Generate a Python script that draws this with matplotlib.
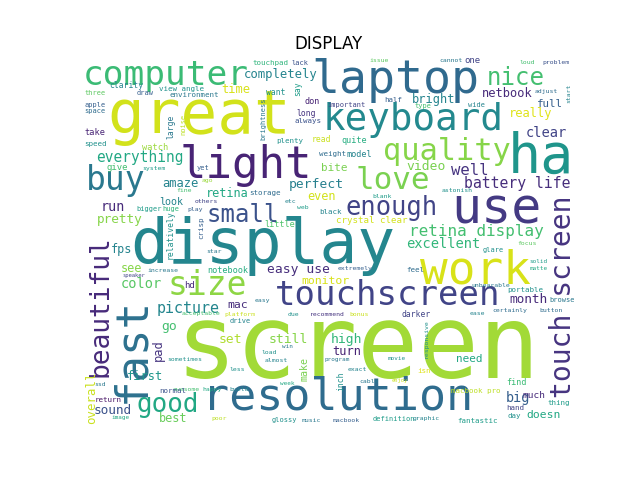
import matplotlib
matplotlib.use("Agg")
import matplotlib.pyplot as plt

# word list of the cloud (biggest first)
words = [
    "screen", "display", "great", "ha", "laptop", "use", "resolution", "light",
    "fast", "keyboard", "touchscreen", "computer", "size", "buy", "love",
    "quality", "work", "touch screen", "beautiful", "good", "enough", "small",
    "nice", "retina display", "well", "picture", "everything", "battery life",
    "excellent", "color", "run", "big", "go", "set", "still", "high", "video",
    "easy use", "perfect", "pretty", "sound", "completely", "overall", "first",
    "amaze", "bright", "netbook", "clear", "time", "turn", "pad", "fps", "see",
    "best", "even", "retina", "month", "monitor", "doesn", "mac", "need",
    "bite", "really", "full", "look", "make", "hd", "crystal clear", "much",
    "clarity", "view angle", "environment", "three", "draw", "apple", "space",
    "take", "speed", "watch", "give", "system", "yet", "large", "noise",
    "touchpad", "lack", "issue", "say", "want", "don", "important", "half",
    "brightness", "long", "always", "plenty", "read", "quite", "weight",
    "model", "cannot", "one", "loud", "problem", "adjust", "start", "type",
    "wide", "others", "bigger", "huge", "play", "ago", "fine", "relatively",
    "crisp", "star", "notebook", "increase", "speaker", "storage", "etc",
    "web", "blank", "black", "little", "extremely", "astonish", "glare",
    "focus", "solid", "matte", "feel", "unbearable", "portable", "acceptable",
    "platform", "drive", "sometimes", "awesome", "happy", "build", "less",
    "normal", "ssd", "return", "image", "poor", "easy", "recommend", "bonus",
    "due", "win", "load", "almost", "program", "exact", "movie", "week",
    "cable", "enjoy", "inch", "glossy", "music", "macbook", "definition",
    "graphic", "isn", "ease", "certainly", "button", "browse", "responsive",
    "darker", "find", "macbook pro", "day", "hand", "thing", "fantastic",
]

# layout: left x, baseline y (pixels), em size (px),
# rotation, viridis value
place = {
    "screen": (183, 378, 101, 0, .86),
    "display": (135, 263, 63, 0, .46),
    "great": (112, 133, 61, 0, .93),
    "ha": (512, 173, 55, 0, .52),
    "laptop": (315, 93, 46.5, 0, .34),
    "use": (455, 223, 50, 0, .17),
    "resolution": (205, 410, 45, 0, .35),
    "light": (183, 178, 44, 0, .10),
    "fast": (144, 400, 44, 90, .37),
    "keyboard": (325, 130, 37.5, 0, .47),
    "touchscreen": (277, 305, 34, 0, .20),
    "computer": (85, 85, 34.4, 0, .68),
    "size": (170, 295, 33, 0, .83),
    "buy": (88, 190, 33, 0, .40),
    "love": (358, 189, 31, 0, .80),
    "quality": (385, 160, 30.4, 0, .82),
    "work": (423, 283, 46, 0, .94),
    "touch screen": (571, 396, 28, 90, .15),
    "beautiful": (108, 375, 26.3, 90, .12),
    "good": (138, 412, 26, 0, .60),
    "enough": (347, 215, 25.5, 0, .20),
    "small": (208, 222, 24, 0, .25),
    "nice": (488, 85, 24, 0, .70),
    "retina display": (410, 236, 16, 0, .70),
    "well": (452, 175, 15.6, 0, .15),
    "picture": (158, 313, 15, 0, .46),
    "everything": (97, 162, 14.5, 0, .60),
    "battery life": (465, 188, 14.7, 0, .13),
    "excellent": (407, 248, 13.7, 0, .66),
    "color": (122, 288, 13.7, 0, .74),
    "run": (102, 211, 13.5, 0, .12),
    "big": (507, 402, 13.5, 0, .30),
    "go": (162, 330, 13, 0, .70),
    "set": (220, 343, 13, 0, .88),
    "still": (270, 343, 13, 0, .82),
    "high": (332, 343, 13, 0, .66),
    "video": (407, 170, 13, 0, .80),
    "easy use": (268, 273, 13, 0, .13),
    "perfect": (290, 188, 13, 0, .43),
    "pretty": (98, 223, 12.8, 0, .82),
    "sound": (95, 414, 12.7, 0, .25),
    "completely": (245, 78, 12.3, 0, .45),
    "overall": (95, 423, 12.4, 90, .92),
    "first": (128, 380, 12, 0, .53),
    "amaze": (163, 187, 12, 0, .45),
    "bright": (413, 103, 12, 0, .45),
    "netbook": (483, 97, 12, 0, .12),
    "clear": (527, 137, 13.7, 0, .20),
    "time": (222, 93, 12, 0, .94),
    "turn": (333, 355, 12, 0, .10),
    "pad": (162, 360, 12, 90, .15),
    "fps": (112, 253, 11.7, 0, .45),
    "see": (122, 272, 11.7, 0, .82),
    "best": (160, 422, 11.7, 0, .77),
    "even": (308, 200, 11.7, 0, .93),
    "retina": (207, 197, 11.7, 0, .60),
    "month": (510, 303, 12.7, 0, .12),
    "monitor": (302, 284, 11.5, 0, .94),
    "doesn": (527, 418, 11.4, 0, .60),
    "mac": (228, 308, 11.5, 0, .13),
    "need": (457, 362, 11, 0, .60),
    "bite": (322, 171, 11, 0, .80),
    "really": (510, 117, 12, 0, .95),
    "full": (538, 107, 10.8, 0, .30),
    "look": (160, 205, 10, 0, .45),
    "make": (307, 380, 10, 90, .80),
    "hd": (185, 288, 9, 0, .12),
    "crystal clear": (337, 223, 9.2, 0, .93),
    "much": (523, 398, 9.5, 0, .12),
    "clarity": (110, 88, 8, 0, .45),
    "view angle": (160, 91, 7.5, 0, .50),
    "environment": (170, 97, 7.5, 0, .40),
    "three": (85, 95, 7, 0, .75),
    "draw": (137, 95, 7, 0, .30),
    "apple": (85, 107, 7, 0, .30),
    "space": (85, 113, 7, 0, .35),
    "take": (85, 135, 8.7, 0, .10),
    "speed": (85, 146, 7.5, 0, .50),
    "watch": (143, 150, 8.6, 0, .85),
    "give": (107, 170, 9, 0, .70),
    "system": (143, 170, 6.5, 0, .55),
    "yet": (197, 170, 7, 0, .30),
    "large": (173, 138, 8, 90, .40),
    "noise": (185, 135, 7, 90, .90),
    "touchpad": (253, 65, 7.5, 0, .65),
    "lack": (292, 65, 7, 0, .25),
    "issue": (370, 62, 6.5, 0, .75),
    "say": (300, 95, 8, 90, .55),
    "want": (267, 95, 8, 0, .50),
    "don": (305, 104, 8.5, 0, .10),
    "important": (328, 107, 7, 0, .20),
    "half": (385, 102, 7.5, 0, .30),
    "brightness": (265, 140, 7, 90, .40),
    "long": (297, 116, 8, 0, .15),
    "always": (295, 123, 7.5, 0, .25),
    "plenty": (277, 143, 7.5, 0, .50),
    "read": (312, 142, 8, 0, .92),
    "quite": (342, 143, 8.5, 0, .62),
    "weight": (320, 156, 7.5, 0, .35),
    "model": (347, 157, 8.5, 0, .45),
    "cannot": (440, 62, 6.5, 0, .40),
    "one": (465, 63, 9, 0, .20),
    "loud": (520, 64, 6.5, 0, .70),
    "problem": (543, 64, 6.5, 0, .25),
    "adjust": (535, 93, 6.5, 0, .35),
    "start": (570, 103, 6.5, 90, .45),
    "type": (415, 108, 7, 0, .70),
    "wide": (468, 107, 7, 0, .45),
    "others": (195, 203, 6.5, 0, .20),
    "bigger": (137, 211, 7, 0, .55),
    "huge": (163, 211, 7, 0, .65),
    "play": (188, 211, 6.5, 0, .30),
    "ago": (202, 182, 6.5, 0, .85),
    "fine": (177, 192, 6.5, 0, .70),
    "relatively": (173, 258, 8, 90, .50),
    "crisp": (203, 238, 7.5, 90, .30),
    "star": (207, 253, 6.5, 0, .40),
    "notebook": (208, 273, 8.5, 0, .62),
    "increase": (148, 272, 6.5, 0, .40),
    "speaker": (123, 277, 5.5, 0, .20),
    "storage": (250, 195, 7.5, 0, .35),
    "etc": (285, 203, 6.5, 0, .45),
    "web": (297, 209, 6.5, 0, .55),
    "blank": (373, 198, 6.5, 0, .55),
    "black": (320, 214, 7.5, 0, .45),
    "little": (265, 227, 8.5, 0, .72),
    "extremely": (338, 270, 6.5, 0, .30),
    "astonish": (442, 192, 6.5, 0, .50),
    "glare": (483, 252, 7, 0, .50),
    "focus": (518, 245, 6.5, 0, .75),
    "solid": (530, 263, 6, 0, .55),
    "matte": (530, 270, 6, 0, .60),
    "feel": (407, 272, 7.5, 0, .35),
    "unbearable": (472, 287, 6.5, 0, .40),
    "portable": (508, 292, 7.5, 0, .50),
    "acceptable": (182, 315, 6.5, 0, .70),
    "platform": (225, 316, 6.5, 0, .92),
    "drive": (230, 323, 7, 0, .45),
    "sometimes": (168, 361, 6.5, 0, .50),
    "awesome": (173, 391, 6.5, 0, .70),
    "happy": (203, 391, 6.5, 0, .60),
    "build": (230, 391, 6.5, 0, .45),
    "less": (230, 371, 6.5, 0, .50),
    "normal": (160, 393, 7.5, 0, .25),
    "ssd": (95, 386, 6.5, 0, .40),
    "return": (95, 402, 7.5, 0, .05),
    "image": (112, 419, 6, 0, .60),
    "poor": (212, 420, 6.5, 0, .90),
    "easy": (255, 302, 6.5, 0, .40),
    "recommend": (310, 316, 6.5, 0, .15),
    "bonus": (350, 316, 6.5, 0, .92),
    "due": (288, 316, 6.5, 0, .50),
    "win": (282, 348, 6, 0, .40),
    "load": (262, 354, 6.5, 0, .50),
    "almost": (265, 362, 6.5, 0, .45),
    "program": (325, 361, 6, 0, .40),
    "exact": (348, 371, 6.5, 0, .45),
    "movie": (388, 360, 6, 0, .50),
    "week": (280, 385, 6, 0, .60),
    "cable": (360, 383, 6.5, 0, .40),
    "enjoy": (392, 382, 5.5, 0, .92),
    "inch": (343, 390, 8, 90, .50),
    "glossy": (272, 422, 7, 0, .50),
    "music": (302, 422, 6.5, 0, .40),
    "macbook": (333, 422, 6.5, 0, .30),
    "definition": (373, 421, 7, 0, .55),
    "graphic": (413, 420, 6.5, 0, .45),
    "isn": (418, 373, 7.5, 0, .95),
    "ease": (470, 315, 6.5, 0, .45),
    "certainly": (493, 312, 6.5, 0, .35),
    "button": (540, 312, 6.5, 0, .35),
    "browse": (550, 302, 7, 0, .40),
    "responsive": (428, 358, 6.5, 90, .50),
    "darker": (402, 317, 8, 0, .20),
    "find": (507, 385, 8.5, 0, .68),
    "macbook pro": (452, 393, 7.5, 0, .90),
    "day": (508, 418, 7.5, 0, .50),
    "hand": (507, 410, 7.5, 0, .20),
    "thing": (548, 405, 7.5, 0, .55),
    "fantastic": (458, 423, 7.5, 0, .55),
}

fig = plt.figure(figsize=(6.4, 4.8), dpi=100)
ax = fig.add_subplot(111)
# map data coords straight onto figure pixels of the axes box
ax.set_xlim(80, 576)
ax.set_ylim(427.2, 57.6)
ax.axis("off")
ax.set_title("DISPLAY")

for w in words:
    x, y, em, rot, cv = place[w]
    if rot == 0:
        x = x - 0.07 * em
    else:
        y = y + 0.07 * em
    ax.text(x, y, w, fontsize=em * 0.72, family="DejaVu Sans Mono",
            color=plt.cm.viridis(cv), rotation=rot, rotation_mode="anchor",
            ha="left", va="baseline")

plt.savefig("out.png", dpi=100)
